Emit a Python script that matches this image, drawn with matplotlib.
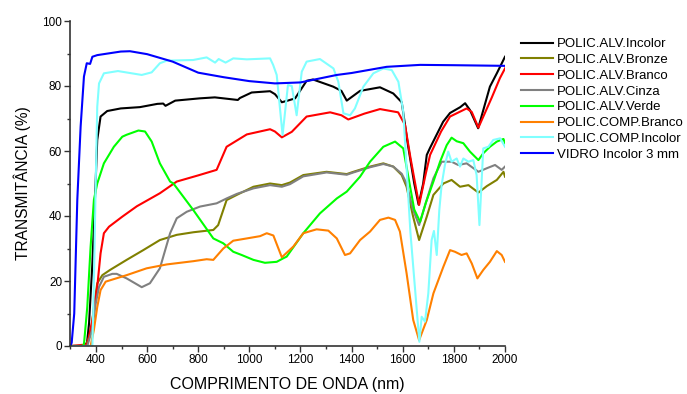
import matplotlib
matplotlib.use("Agg")
import matplotlib.pyplot as plt
from matplotlib.ticker import MultipleLocator, FixedLocator

plt.rcParams['font.family'] = ['Liberation Sans', 'DejaVu Sans']

labels = ["POLIC.ALV.Incolor", "POLIC.ALV.Bronze", "POLIC.ALV.Branco", "POLIC.ALV.Cinza",
          "POLIC.ALV.Verde", "POLIC.COMP.Branco", "POLIC.COMP.Incolor", "VIDRO Incolor 3 mm"]
colors = ["#000000", "#808000", "#FF0000", "#808080", "#00FF00", "#FF8000", "#80FFFF", "#0000FF"]

inc_x = [300, 350, 365, 373, 386, 399, 405, 418, 444, 497, 572, 640, 663, 672, 710, 806, 865, 955, 963,
         1009, 1081, 1100, 1127, 1150, 1179, 1224, 1249, 1328, 1360, 1381, 1433, 1511, 1563, 1596, 1620,
         1645, 1662, 1680, 1694, 1707, 1758, 1785, 1825, 1844, 1863, 1895, 1941, 1968, 2000]
inc_y = [0, 0, 1, 7, 25.5, 51, 63.4, 70.6, 72.3, 73.1, 73.5, 74.5, 74.6, 73.9, 75.5, 76.2, 76.5, 75.7, 76.3,
         78, 78.4, 77.5, 75, 75.5, 76.2, 81.6, 82, 79.8, 78.5, 75.5, 78.5, 79.6, 77.7, 75, 62,
         50, 43.5, 50, 58.8, 61, 69, 71.7, 73.5, 74.7, 72.6, 67, 79.8, 83.9, 89]

bro_x = [300, 360, 380, 392, 405, 425, 455, 520, 585, 650, 716, 781, 859, 878, 911, 951, 1016, 1081, 1127,
         1159, 1211, 1302, 1381, 1407, 1472, 1524, 1563, 1596, 1615, 1640, 1664, 1694, 1720, 1759, 1791,
         1824, 1857, 1896, 1929, 1968, 1994, 2000]
bro_y = [0, 0, 4, 12, 19.3, 21.8, 23.4, 26.5, 29.5, 32.6, 34.2, 35, 35.7, 37.2, 44.9, 46.5, 49, 50, 49.5,
         50.3, 52.6, 53.6, 52.9, 53.6, 55.2, 56.2, 55.2, 52.6, 49, 40, 32.6, 39.8, 46.5, 50, 51.1,
         49, 49.5, 47.2, 49.2, 51.1, 53.6, 52.1]

bra_x = [300, 366, 386, 405, 418, 431, 451, 503, 560, 650, 716, 800, 872, 911, 990, 1081, 1100, 1127, 1166,
         1224, 1316, 1360, 1387, 1450, 1511, 1582, 1609, 1630, 1664, 1690, 1707, 1750, 1785, 1850, 1870,
         1896, 1948, 1980, 2000]
bra_y = [0, 0.5, 8, 18.2, 28.5, 34.7, 36.7, 39.8, 43, 47, 50.6, 52.5, 54.2, 61.3, 65.1, 66.7, 66, 64.2, 65.9,
         70.6, 71.9, 71, 69.7, 71.5, 72.9, 71.9, 68, 58, 43.4, 53, 58.8, 66, 70.6, 73.1, 72,
         67.2, 76.4, 82.4, 85.4]

cin_x = [300, 366, 385, 399, 412, 431, 464, 481, 520, 579, 611, 650, 690, 716, 755, 807, 872, 911, 951, 1016,
         1081, 1127, 1159, 1211, 1302, 1381, 1407, 1472, 1524, 1563, 1596, 1615, 1640, 1664, 1694, 1720,
         1752, 1791, 1817, 1850, 1896, 1929, 1961, 1987, 2000]
cin_y = [0, 0, 5, 13, 18.2, 21.3, 22.2, 22.2, 20.8, 18.1, 19.3, 23.9, 34.7, 39.3, 41.3, 42.9, 43.9, 45.4, 46.8, 48.5,
         49.5, 49, 49.8, 52.2, 53.4, 52.7, 53.4, 55, 56, 55.2, 53, 50, 42, 37.2, 45, 51.6,
         56.7, 56.7, 55.7, 56.2, 53.6, 54.7, 55.7, 54.2, 55.2]

ver_x = [300, 346, 353, 366, 379, 392, 405, 431, 470, 503, 520, 566, 592, 618, 650, 690, 703, 781, 859, 898,
         937, 970, 1016, 1061, 1107, 1133, 1146, 1211, 1276, 1342, 1381, 1433, 1472, 1524, 1570, 1602, 1622,
         1645, 1668, 1690, 1720, 1746, 1772, 1791, 1811, 1837, 1863, 1896, 1915, 1941, 1968, 1994, 2000]
ver_y = [0, 0, 0.5, 12, 30.5, 45, 50, 56.2, 61.3, 64.4, 65, 66.3, 66, 62.9, 56.2, 50.6, 50, 41.8, 33.1, 31.6,
         29, 28, 26.5, 25.6, 25.9, 27, 27.5, 34.7, 40.8, 45.4, 47.5, 52.1, 56.7, 61.3, 62.9, 60.8, 52,
         42, 38.2, 44, 50.6, 56.7, 61.8, 64.1, 63, 62.4, 59.8, 57.2, 59.3, 61.3, 62.9, 63.7, 62.4]

cbr_x = [300, 379, 392, 405, 418, 438, 520, 598, 677, 781, 833, 859, 898, 937, 990, 1042, 1068, 1094, 1127,
         1172, 1211, 1263, 1309, 1342, 1374, 1394, 1433, 1472, 1511, 1544, 1570, 1589, 1615, 1641, 1664,
         1694, 1720, 1759, 1785, 1804, 1830, 1850, 1870, 1892, 1915, 1941, 1968, 1987, 2000]
cbr_y = [0, 0, 5, 12, 17.2, 19.8, 21.8, 23.9, 25.1, 26.1, 26.7, 26.5, 30, 32.4, 33.1, 33.8, 34.7, 34, 27.3,
         30.6, 34.7, 35.9, 35.5, 33.1, 28, 28.5, 32.6, 35.2, 38.8, 39.5, 38.8, 35.2, 22.4, 8, 1.8,
         8, 16.2, 24.4, 29.5, 29, 28, 28.5, 25.4, 20.8, 23.4, 25.9, 29.2, 28, 25.9]

cin2_x = [300, 386, 392, 399, 405, 412, 431, 486, 579, 618, 650, 677, 780, 833, 866, 880, 907, 937, 990,
          1081, 1093, 1107, 1130, 1151, 1166, 1185, 1205, 1224, 1276, 1329, 1348, 1368, 1394, 1413, 1446,
          1485, 1524, 1557, 1583, 1602, 1630, 1665, 1674, 1687, 1700, 1713, 1722, 1733, 1743, 1752, 1765,
          1778, 1791, 1811, 1824, 1837, 1857, 1876, 1889, 1900, 1915, 1935, 1954, 1981, 2000]
cin2_y = [0, 0, 20, 50, 73.6, 80.8, 83.9, 84.6, 83.4, 84.2, 87, 87.8, 88, 88.8, 87.2, 88.3, 87.2, 88.5, 88.2,
          88.5, 86.5, 83.4, 64.9, 80.3, 80, 71, 84.4, 87.5, 88.3, 85.4, 81.3, 71.6, 71, 73.1, 79.8,
          83.9, 85.4, 84.9, 81.3, 72.1, 35, 1.3, 9, 7.5, 16.2, 32.6, 35.4, 28, 41.8, 49.5, 55.7,
          59.8, 56.7, 57.7, 55.2, 57.7, 56.7, 57.2, 52.6, 37.2, 60.8, 61.3, 63.4, 63.9, 61.3]

vid_x = [300, 305, 315, 327, 340, 353, 364, 377, 386, 405, 497, 533, 600, 700, 800, 900, 1000, 1100, 1200,
         1342, 1400, 1537, 1668, 1800, 2000]
vid_y = [0, 1, 10, 45, 67.5, 82.9, 87, 86.8, 89, 89.5, 90.6, 90.7, 89.8, 87.5, 84.1, 82.7, 81.5, 80.8, 81.1,
         83.4, 84, 85.9, 86.5, 86.4, 86.2]

series = [(inc_x, inc_y), (bro_x, bro_y), (bra_x, bra_y), (cin_x, cin_y),
          (ver_x, ver_y), (cbr_x, cbr_y), (cin2_x, cin2_y), (vid_x, vid_y)]

x_ticks = [400, 600, 800, 1000, 1200, 1400, 1600, 1800, 2000]
y_ticks = [0, 20, 40, 60, 80, 100]

fig = plt.figure(figsize=(6.87, 3.94), dpi=100)
ax = fig.add_axes([70.4 / 687, 1 - 346 / 394, (505 - 70.4) / 687, (346 - 21) / 394])

for (xs, ys), lab, c in zip(series, labels, colors):
    ax.plot(xs, ys, color=c, lw=1.5, label=lab, solid_joinstyle='round')

ax.set_xlim(300, 2000)
ax.set_ylim(0, 100)
ax.xaxis.set_major_locator(FixedLocator(x_ticks))
ax.xaxis.set_minor_locator(MultipleLocator(100))
ax.yaxis.set_major_locator(FixedLocator(y_ticks))
ax.yaxis.set_minor_locator(MultipleLocator(10))
ax.tick_params(which='major', direction='out', length=4, width=1.0, labelsize=8.5, colors='#333333',
               labelcolor='black', pad=2)
ax.tick_params(which='minor', direction='out', length=2.5, width=1.0, colors='#333333')
for s in ['top', 'right']:
    ax.spines[s].set_visible(False)
for s in ['left', 'bottom']:
    ax.spines[s].set_linewidth(1.2)
    ax.spines[s].set_color('#333333')

ax.set_xlabel("COMPRIMENTO DE ONDA (nm)", fontsize=11.5, labelpad=8)
ax.set_ylabel("TRANSMITÂNCIA (%)", fontsize=11.2, labelpad=8)

fig.legend(loc='upper left', bbox_to_anchor=(521 / 687, 1 - 38 / 394), frameon=False,
           fontsize=9.5, handlelength=2.4, handletextpad=0.3, labelspacing=0.27, borderpad=0,
           borderaxespad=0)

fig.savefig("out.png", dpi=100)
